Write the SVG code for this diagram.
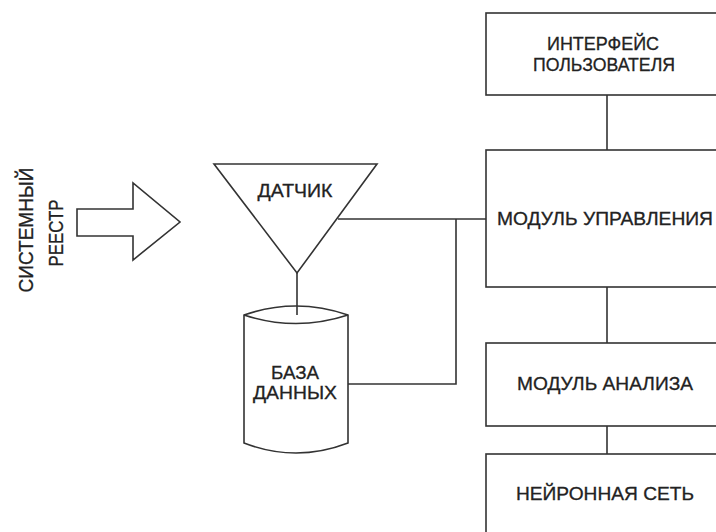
<svg xmlns="http://www.w3.org/2000/svg" width="716" height="532" viewBox="0 0 716 532">
<style>
.s{fill:#fff;stroke:#333;stroke-width:1.6}
.c{fill:none;stroke:#333;stroke-width:1.6}
.t{font-family:"Liberation Sans",Arial,sans-serif;font-size:18px;fill:#222;stroke:#222;stroke-width:0.3;text-anchor:middle}
.r{font-size:21px}
</style>
<rect width="716" height="532" fill="#fff"/>
<g id="connectors">
<line class="c" x1="607" y1="95" x2="607" y2="150"/>
<line class="c" x1="607" y1="287" x2="607" y2="343"/>
<line class="c" x1="607" y1="426" x2="607" y2="454"/>
<line class="c" x1="297" y1="273" x2="297" y2="315"/>
<polyline class="c" points="338,219 486,219"/>
<polyline class="c" points="348,384 456,384 456,219"/>
</g>
<g id="registry">
<polygon class="s" points="77,209 133,209 133,183 180,222 133,260 133,236 77,236"/>
<text class="t r" transform="translate(33,230) rotate(-90)" textLength="125" lengthAdjust="spacingAndGlyphs">СИСТЕМНЫЙ</text>
<text class="t r" transform="translate(63,233) rotate(-90)" textLength="67" lengthAdjust="spacingAndGlyphs">РЕЕСТР</text>
</g>
<g id="sensor">
<polygon class="s" points="214,164 377,164 297,273"/>
<text class="t" x="295" y="197" textLength="75" lengthAdjust="spacingAndGlyphs">ДАТЧИК</text>
</g>
<g id="database">
<path class="s" d="M244,315 L244,443 Q296,463 348,443 L348,315 Q296,297 244,315 Z"/>
<path class="c" d="M244,315 Q296,332 348,315"/>
<line class="c" x1="297" y1="306" x2="297" y2="315"/>
<text class="t" x="295" y="379" textLength="48" lengthAdjust="spacingAndGlyphs">БАЗА</text>
<text class="t" x="295" y="399" textLength="84" lengthAdjust="spacingAndGlyphs">ДАННЫХ</text>
</g>
<g id="ui">
<rect class="s" x="486" y="13" width="240" height="82"/>
<text class="t" x="603" y="50" textLength="112" lengthAdjust="spacingAndGlyphs">ИНТЕРФЕЙС</text>
<text class="t" x="604" y="71" textLength="142" lengthAdjust="spacingAndGlyphs">ПОЛЬЗОВАТЕЛЯ</text>
</g>
<g id="control">
<rect class="s" x="486" y="150" width="240" height="137"/>
<text class="t" x="605" y="225" textLength="216" lengthAdjust="spacingAndGlyphs">МОДУЛЬ УПРАВЛЕНИЯ</text>
</g>
<g id="analysis">
<rect class="s" x="486" y="343" width="240" height="83"/>
<text class="t" x="605" y="390" textLength="176" lengthAdjust="spacingAndGlyphs">МОДУЛЬ АНАЛИЗА</text>
</g>
<g id="neural">
<rect class="s" x="486" y="454" width="240" height="100"/>
<text class="t" x="605" y="500" textLength="178" lengthAdjust="spacingAndGlyphs">НЕЙРОННАЯ СЕТЬ</text>
</g>
</svg>
